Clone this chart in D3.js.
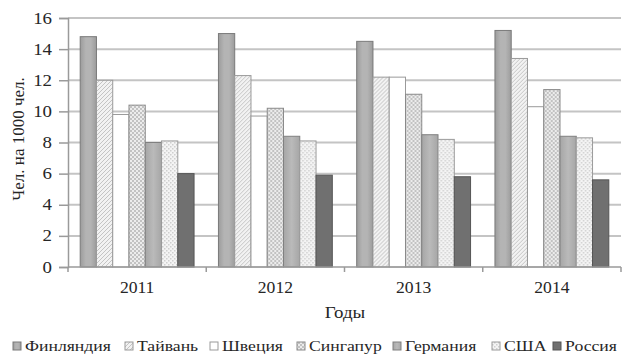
<!DOCTYPE html>
<html><head><meta charset="utf-8">
<script src="https://cdn.jsdelivr.net/npm/d3@7"></script>
<style>
  body { margin: 0; background: #fff; }
  svg, svg text { font-family: "Liberation Serif", serif !important; }
</style>
</head><body>
<svg id="c" width="624" height="356" font-family="Liberation Serif"></svg>
<script>
const years = ["2011", "2012", "2013", "2014"];
const countries = ["Финляндия", "Тайвань", "Швеция", "Сингапур", "Германия", "США", "Россия"];
const finland   = [14.8, 15.0, 14.5, 15.2];
const taiwan    = [12.0, 12.3, 12.2, 13.4];
const sweden    = [9.8, 9.7, 12.2, 10.3];
const singapore = [10.4, 10.2, 11.1, 11.4];
const germany   = [8.0, 8.4, 8.5, 8.4];
const usa       = [8.1, 8.1, 8.2, 8.3];
const russia    = [6.0, 5.9, 5.8, 5.6];
const yTicks = [0, 2, 4, 6, 8, 10, 12, 14, 16];
const series = [finland, taiwan, sweden, singapore, germany, usa, russia];

const INK = "#262626";
const STRETCH = 1.18;   // wide serif lettering
const svg = d3.select("#c");
const m = {l: 68, r: 621, t: 18, b: 267};

// fill patterns for each country
const defs = svg.append("defs");
const gFin = defs.append("linearGradient").attr("id", "fin").attr("x1", 0).attr("x2", 1);
[["0%", "#9c9c9c"], ["35%", "#b4b4b4"], ["65%", "#b4b4b4"], ["100%", "#9c9c9c"]]
  .forEach(([o, c]) => gFin.append("stop").attr("offset", o).attr("stop-color", c));
const gGer = defs.append("linearGradient").attr("id", "ger").attr("x1", 0).attr("x2", 1);
[["0%", "#a6a6a6"], ["50%", "#bababa"], ["100%", "#a6a6a6"]]
  .forEach(([o, c]) => gGer.append("stop").attr("offset", o).attr("stop-color", c));
const pTai = defs.append("pattern").attr("id", "tai").attr("width", 4).attr("height", 4)
  .attr("patternUnits", "userSpaceOnUse");
pTai.append("rect").attr("width", 4).attr("height", 4).attr("fill", "#f2f2f2");
pTai.append("path").attr("d", "M0,4 L4,0 M-1,1 L1,-1 M3,5 L5,3").attr("stroke", "#c4c4c4").attr("stroke-width", 1);
const pSin = defs.append("pattern").attr("id", "sin").attr("width", 4).attr("height", 4)
  .attr("patternUnits", "userSpaceOnUse");
pSin.append("rect").attr("width", 4).attr("height", 4).attr("fill", "#ececec");
pSin.append("rect").attr("width", 2).attr("height", 2).attr("fill", "#c2c2c2");
pSin.append("rect").attr("x", 2).attr("y", 2).attr("width", 2).attr("height", 2).attr("fill", "#c2c2c2");
const pUsa = defs.append("pattern").attr("id", "usa").attr("width", 4).attr("height", 4)
  .attr("patternUnits", "userSpaceOnUse");
pUsa.append("rect").attr("width", 4).attr("height", 4).attr("fill", "#f4f4f4");
pUsa.append("rect").attr("width", 1.5).attr("height", 1.5).attr("fill", "#cfcfcf");
pUsa.append("rect").attr("x", 2).attr("y", 2).attr("width", 1.5).attr("height", 1.5).attr("fill", "#cfcfcf");

const fills = ["url(#fin)", "url(#tai)", "#ffffff", "url(#sin)", "url(#ger)", "url(#usa)", "#707070"];
const strokes = ["#7a7a7a", "#9a9a9a", "#9a9a9a", "#8a8a8a", "#808080", "#9a9a9a", "#555555"];

const x0 = d3.scaleBand().domain(years).range([m.l, m.r]).paddingInner(0).paddingOuter(0);
const x1 = d3.scaleBand().domain(countries).range([0, x0.bandwidth()]).paddingOuter(0.75).paddingInner(0);
const y = d3.scaleLinear().domain([0, 16]).range([m.b, m.t]);

// text placed at (x,y) and widened horizontally around its anchor
function label(sel, x, y, txt, size, anchor, sx) {
  return sel.append("text")
    .attr("transform", `translate(${x},${y}) scale(${sx},1)`)
    .attr("text-anchor", anchor)
    .attr("font-size", size)
    .attr("fill", INK).text(txt);
}

// gridlines
svg.append("g").selectAll("line").data(yTicks.filter(d => d > 0)).join("line")
  .attr("x1", m.l).attr("x2", m.r).attr("y1", d => y(d)).attr("y2", d => y(d))
  .attr("stroke", "#c4c4c4").attr("stroke-width", 2);

// bars
const groups = svg.append("g").selectAll("g").data(years).join("g")
  .attr("transform", d => `translate(${x0(d)},0)`);
groups.selectAll("rect").data((yr, i) => countries.map((c, k) => ({c, k, v: series[k][i]}))).join("rect")
  .attr("x", d => x1(d.c)).attr("width", x1.bandwidth())
  .attr("y", d => y(d.v)).attr("height", d => y(0) - y(d.v))
  .attr("fill", d => fills[d.k]).attr("stroke", d => strokes[d.k]).attr("stroke-width", 1);

// y axis
const yAxis = svg.append("g").attr("transform", `translate(${m.l},0)`)
  .call(d3.axisLeft(y).tickValues(yTicks).tickSize(9).tickFormat(""));
yAxis.attr("font-family", null);
yAxis.select(".domain").attr("stroke", "#9a9a9a").attr("stroke-width", 1.5);
yAxis.selectAll(".tick line").attr("stroke", "#9a9a9a").attr("stroke-width", 1.5);
yTicks.forEach(t => label(svg, 52, y(t) + 5.5, String(t), 16, "end", STRETCH));

// x axis
const xAxis = svg.append("g").attr("transform", `translate(0,${m.b})`);
xAxis.append("line").attr("x1", m.l).attr("x2", m.r).attr("stroke", "#9a9a9a").attr("stroke-width", 1.5);
xAxis.selectAll("line.t").data(years.map(d => x0(d)).concat([m.r])).join("line").attr("class", "t")
  .attr("x1", d => d).attr("x2", d => d).attr("y1", 0).attr("y2", 5)
  .attr("stroke", "#9a9a9a").attr("stroke-width", 1.5);
years.forEach(yr => label(svg, x0(yr) + x0.bandwidth() / 2, 293, yr, 16, "middle", 1.1));

// titles
label(svg, 345, 318, "Годы", 16, "middle", STRETCH);
svg.append("text").attr("transform", `translate(24,139) rotate(-90)`)
  .attr("text-anchor", "middle").attr("font-size", 17)
  .attr("fill", INK).text("Чел. на 1000 чел.");

// legend
const legX = [13, 125, 210, 297, 393, 492, 553];
const leg = svg.append("g");
countries.forEach((c, i) => {
  leg.append("rect").attr("x", legX[i]).attr("y", 342).attr("width", 8).attr("height", 8)
    .attr("fill", fills[i]).attr("stroke", strokes[i]);
  label(leg, legX[i] + 12, 351, c, 15, "start", STRETCH);
});
</script></body></html>
